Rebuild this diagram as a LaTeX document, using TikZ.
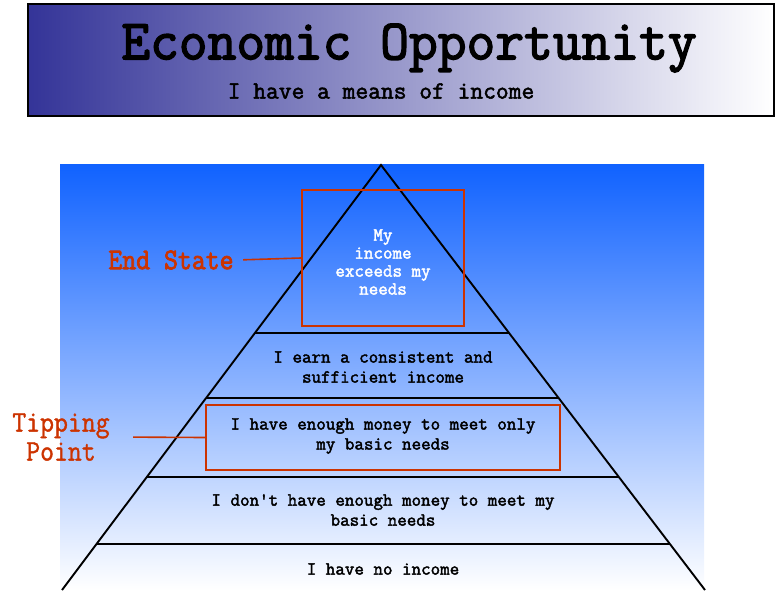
\documentclass[tikz,border=0pt]{standalone}
\usepackage{fontspec}
\usetikzlibrary{calc}
\newfontfamily\monoA{Latin Modern Mono}[FakeBold=2.2]
\newfontfamily\monoT{Latin Modern Mono}[FakeStretch=0.98,FakeBold=2.6]
\newfontfamily\monoB{Latin Modern Mono}[FakeStretch=0.9,FakeBold=1.2]
\newfontfamily\monoC{Latin Modern Mono}[FakeStretch=0.9,FakeBold=2.5]
\definecolor{redc}{RGB}{204,51,0}
\definecolor{banL}{RGB}{52,52,152}
\definecolor{skyT}{RGB}{16,98,255}
\begin{document}
\begin{tikzpicture}[x=1pt,y=-1pt,
  redbox/.style={draw=redc,line width=2pt,inner sep=0pt},
  lvltext/.style={font=\monoA\fontsize{18.5}{20}\selectfont,align=center,text=black},
  toptext/.style={font=\monoA\fontsize{18.5}{18}\selectfont,align=center,text=white},
  lbl/.style={font=\monoB\fontsize{30}{29}\selectfont,align=center,text=redc},
  conn/.style={draw=redc,line width=1.6pt},
  tier/.style={line width=2.2pt}]
\useasboundingbox (0,0) rectangle (775,590);
% banner
\shade[left color=banL,right color=white] (28,4) rectangle (774,116);
\draw[line width=2pt] (28,4) rectangle (774,116);
\node[font=\monoT\fontsize{57}{57}\selectfont] (title) at (409,48) {Economic Opportunity};
\node[font=\monoA\fontsize{24.8}{25}\selectfont] (sub) at (381,91) {I have a means of income};
% sky background
\shade[top color=skyT,bottom color=white] (60,164) rectangle (704,590);
% pyramid
\coordinate (apex) at (381,165);
\coordinate (bl) at (62,590);
\coordinate (br) at (705,590);
\draw[line width=1.9pt] (bl) -- (apex) -- (br);
\foreach \t in {0.3953,0.5482,0.7341,0.8918}{
  \draw[tier] ($(apex)!\t!(bl)$) -- ($(apex)!\t!(br)$);
}
% boxes
\node[redbox,minimum width=162,minimum height=136] (endbox) at (383,258) {};
\node[toptext] (toptxt) at (383,262) {My\\income\\exceeds my\\needs};
\node[lvltext] (l2) at (383,367) {I earn a consistent and\\sufficient income};
\node[redbox,minimum width=354,minimum height=65] (tipbox) at (383,437.5) {};
\node[lvltext] (l3) at (383,436) {I have enough money to meet only\\my basic needs};
\node[lvltext] (l4) at (383,510) {I don't have enough money to meet my\\basic needs};
\node[lvltext] (l5) at (383,569) {I have no income};
% labels
\node[lbl,font=\monoC\fontsize{30}{29}\selectfont] (es) at (171,260) {End State};
\node[lbl] (tp) at (61,437) {Tipping\\Point};
\draw[conn,shorten <=6pt] (es.east) -- (endbox.west);
\draw[conn,shorten <=20pt] (tp.east) -- (tipbox.west);
\end{tikzpicture}
\end{document}
